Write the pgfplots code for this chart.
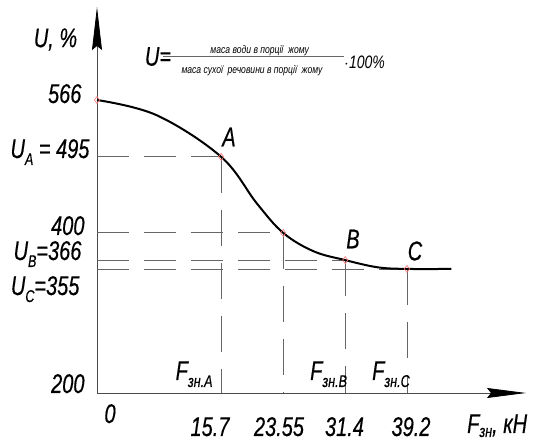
\documentclass[border=0pt]{standalone}
\usepackage{pgfplots}
\pgfplotsset{compat=1.18}
\usetikzlibrary{arrows.meta}
\usepackage{fontspec}
\setmainfont{Liberation Sans}
\newfontfamily\lf[FakeStretch=0.74, FakeBold=0.4]{Liberation Sans}
\newfontfamily\lfs[FakeStretch=0.78]{Liberation Sans}
\newcommand\Lt{\lf\itshape\fontsize{27}{30}\selectfont}
\newcommand\Ls{\lf\itshape\fontsize{17}{19}\selectfont}
\newcommand\Lf{\lfs\itshape\fontsize{11}{13}\selectfont}
\newcommand\Lm{\lfs\itshape\fontsize{18}{20}\selectfont}
\newcommand\sub[1]{\raisebox{-7pt}{\Ls #1}}
\begin{document}
\begin{tikzpicture}
\begin{axis}[
  scale only axis, width=429pt, height=386pt,
  xmin=0, xmax=54.25, ymin=200, ymax=682.2,
  axis x line=bottom, axis y line=left,
  xtick=\empty, ytick=\empty, clip=false,
  axis line style={draw=black!70, line width=0.8pt},
  x axis line style={-{Stealth[length=39pt,width=10pt,inset=4pt,color=black]}},
  y axis line style={-{Stealth[length=43pt,width=10pt,inset=4pt,color=black]}},
]
% guide lines
\addplot[draw=black!60, line width=0.8pt, dash pattern=on 32pt off 15pt] coordinates {(0,495)(15.7,495)};
\addplot[draw=black!60, line width=0.8pt, dash pattern=on 32pt off 15pt] coordinates {(0,400)(23.55,400)};
\addplot[draw=black!60, line width=0.8pt, dash pattern=on 32pt off 15pt] coordinates {(0,366)(31.4,366)};
\addplot[draw=black!60, line width=0.8pt, dash pattern=on 32pt off 15pt] coordinates {(0,355)(39.2,355)};
\addplot[draw=black!60, line width=0.8pt, dash pattern=on 36pt off 17pt] coordinates {(15.7,495)(15.7,200)};
\addplot[draw=black!60, line width=0.8pt, dash pattern=on 36pt off 17pt] coordinates {(23.55,400)(23.55,200)};
\addplot[draw=black!60, line width=0.8pt, dash pattern=on 36pt off 17pt] coordinates {(31.4,366)(31.4,200)};
\addplot[draw=black!60, line width=0.8pt, dash pattern=on 36pt off 17pt] coordinates {(39.2,355)(39.2,200)};
% curve
\addplot[black, line width=2pt, smooth, tension=0.6] coordinates {
(0,566) (7.55,547) (15.7,495) (20.2,437) (23.55,400) (27.4,377) (31.4,366) (35.5,357) (39.2,355) (44.8,355)};
% markers
\addplot[only marks, mark=diamond, mark size=3.5pt, mark options={draw=red!55, line width=0.6pt, fill=none}]
 coordinates {(0,566) (15.7,495) (23.55,400) (31.4,366) (39.2,355)};
\end{axis}
% y labels
\node[anchor=center, font=\Lt] at (-41.5pt,353.5pt) {U, \%};
\node[anchor=base east, font=\Lt] at (-12pt,290pt) {566};
\node[anchor=base east, font=\Lt] at (-4pt,235pt) {U\sub{A} = 495};
\node[anchor=base east, font=\Lt] at (-9pt,158pt) {400};
\node[anchor=base east, font=\Lt] at (-12pt,133pt) {U\sub{B}=366};
\node[anchor=base east, font=\Lt] at (-14pt,98pt) {U\sub{C}=355};
\node[anchor=base east, font=\Lt] at (-9pt,0pt) {200};
% x labels
\node[anchor=base, font=\Lt] at (13pt,-30pt) {0};
\node[anchor=base, font=\Lt] at (113pt,-43pt) {15.7};
\node[anchor=base, font=\Lt] at (182pt,-43pt) {23.55};
\node[anchor=base, font=\Lt] at (247.5pt,-43pt) {31.4};
\node[anchor=base, font=\Lt] at (314pt,-43pt) {39.2};
\node[anchor=base west, font=\Lt, inner sep=0pt] at (370pt,-40pt) {F\raisebox{-4pt}{\Ls зн}, кН};
\node[anchor=base west, font=\Lt, inner sep=0pt] at (78.5pt,13pt) {F\sub{зн.А}};
\node[anchor=base west, font=\Lt, inner sep=0pt] at (213pt,13pt) {F\sub{зн.В}};
\node[anchor=base west, font=\Lt, inner sep=0pt] at (275pt,13pt) {F\sub{зн.С}};
% point labels
\node[font=\Lt] at (132pt,256pt) {A};
\node[font=\Lt] at (256pt,154pt) {B};
\node[font=\Lt] at (318pt,142pt) {C};
% formula
\node[font=\Lt, inner sep=0pt] at (61pt,336.5pt) {U=};
\draw[black!60, line width=0.8pt] (66pt,337pt) -- (247pt,337pt);
\node[font=\Lf, inner sep=0pt] at (162.7pt,342.5pt) {маса води в порції\ \ жому};
\node[font=\Lf, inner sep=0pt] at (155pt,322pt) {маса сухої\ \ речовини в порції\ \ жому};
\node[font=\Lm, inner sep=0pt, anchor=west] at (247pt,331pt) {$\cdot$100\%};
\pgfresetboundingbox
\useasboundingbox (-97pt,-48pt) rectangle (445pt,393pt);
\end{tikzpicture}
\end{document}
